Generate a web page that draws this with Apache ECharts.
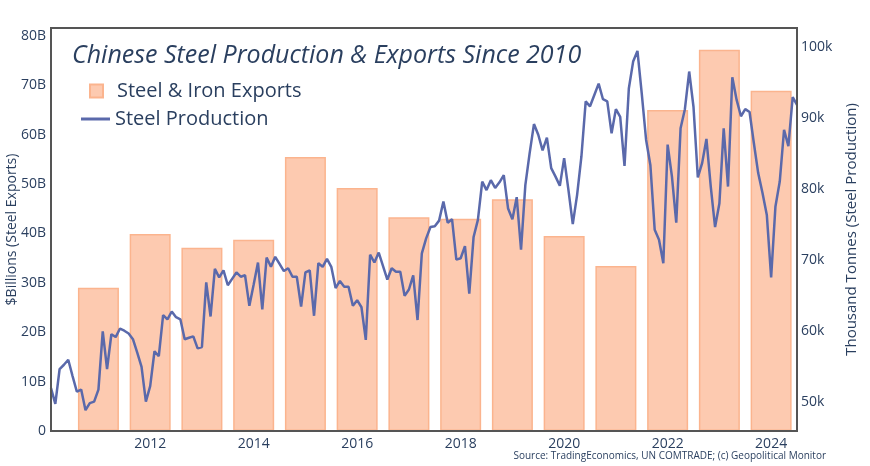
<!DOCTYPE html>
<html><head><meta charset="utf-8">
<script src="https://cdn.jsdelivr.net/npm/echarts@6/dist/echarts.min.js"></script>
<style>html,body{margin:0;padding:0;background:#fff}#c{width:870px;height:466px}</style>
</head><body><div id="c"></div>
<script>
const titleText = 'Chinese Steel Production & Exports Since 2010';
const sourceText = 'Source: TradingEconomics, UN COMTRADE; (c) Geopolitical Monitor';
const exportsName = 'Steel & Iron Exports';
const productionName = 'Steel Production';

// Annual steel & iron exports, $ billions
const exportYears  = [2011, 2012, 2013, 2014, 2015, 2016, 2017, 2018, 2019, 2020, 2021, 2022, 2023, 2024];
const exportValues = [29.0, 39.9, 37.1, 38.7, 55.5, 49.2, 43.3, 43.0, 46.9, 39.5, 33.4, 65.0, 77.2, 68.9];

// Monthly steel production, thousand tonnes (k), starting Feb 2010
const productionStartYear = 2010;
const productionStartMonth = 2;
const productionValues = [
  51.9, 49.7, 54.6, 55.2, 55.9, 53.6, 51.4, 51.7, 48.8, 49.8, 50.0,
  51.7, 59.9, 54.6, 59.5, 59.1, 60.3, 60.0, 59.6, 58.8, 56.9, 54.9, 50.0,
  52.2, 57.1, 56.4, 62.2, 61.6, 62.7, 61.9, 61.6, 58.8, 59.0, 59.2, 57.5,
  57.7, 66.8, 62.0, 68.7, 67.5, 68.5, 66.4, 67.3, 68.2, 67.6, 67.8, 63.5,
  66.5, 69.6, 63.0, 70.3, 69.0, 70.4, 69.4, 68.4, 68.8, 67.6, 67.6, 63.4,
  68.2, 68.5, 62.1, 69.5, 69.0, 70.1, 69.0, 66.0, 67.0, 66.2, 66.2, 63.5,
  64.3, 63.3, 58.7, 70.7, 69.6, 71.0, 69.1, 67.2, 68.8, 68.3, 68.3, 64.9,
  65.8, 67.8, 61.5, 70.9, 73.0, 74.6, 74.7, 75.5, 78.2, 75.2, 75.7, 70.0,
  70.2, 71.9, 65.2, 73.2, 75.6, 81.0, 79.8, 81.2, 80.1, 80.9, 81.9, 77.2,
  75.7, 78.8, 71.4, 80.5, 85.0, 89.1, 87.6, 85.4, 87.2, 82.9, 81.7, 80.4,
  84.3, 79.8, 75.0, 79.1, 84.5, 92.3, 91.6, 93.2, 94.8, 92.6, 92.3, 87.8,
  91.2, 90.1, 83.2, 94.1, 97.9, 99.4, 93.4, 86.9, 83.3, 74.2, 72.8, 69.5,
  86.2, 81.7, 75.2, 88.5, 91.2, 96.5, 91.5, 81.6, 83.6, 87.0, 80.3, 74.6,
  77.9, 88.5, 80.3, 95.7, 92.5, 90.2, 91.2, 90.8, 86.4, 82.2, 79.4, 76.3,
  67.5, 77.5, 81.0, 88.3, 86.0, 92.9, 91.8
];

const xTickYears = [2012, 2014, 2016, 2018, 2020, 2022, 2024];
const leftTicks  = [0, 10, 20, 30, 40, 50, 60, 70, 80];
const rightTicks = [50, 60, 70, 80, 90, 100];

const FONT = 'Open Sans';
const TXT = '#2a3f5f';
const FRAME = '#555';

const productionData = productionValues.map((v, i) => {
  const idx = productionStartMonth - 1 + i;
  const yr = productionStartYear + Math.floor(idx / 12);
  const mo = idx % 12;
  return [yr + mo / 12, v];
});
const exportData = exportYears.map((y, i) => [y, exportValues[i]]);

const chart = echarts.init(document.getElementById('c'), null, {renderer: 'canvas'});
chart.setOption({
  animation: false,
  backgroundColor: '#fff',
  textStyle: {fontFamily: FONT},
  title: {
    text: titleText, left: 72, top: 43, padding: 0,
    textStyle: {fontFamily: FONT, fontSize: 25, fontStyle: 'italic', fontWeight: 'normal', color: TXT}
  },
  legend: [
    {
      data: [exportsName], left: 89, top: 81, padding: 0, orient: 'vertical',
      itemWidth: 13, itemHeight: 13, icon: 'rect',
      textStyle: {fontFamily: FONT, fontSize: 20, color: TXT, padding: [0, 0, 0, 9]}
    },
    {
      data: [productionName], left: 81, top: 109, padding: 0, orient: 'vertical',
      itemWidth: 29, itemHeight: 3, icon: 'rect',
      textStyle: {fontFamily: FONT, fontSize: 20, color: TXT}
    }
  ],
  grid: {
    left: 51, right: 73, top: 28, bottom: 35, outerBoundsMode: 'none', containLabel: false,
    show: true, borderColor: FRAME, borderWidth: 2, backgroundColor: 'transparent'
  },
  xAxis: {
    type: 'value', min: 2010 + 1 / 12, max: 2024.5, z: 10,
    splitLine: {show: false},
    axisLine: {show: true, onZero: false, lineStyle: {color: FRAME, width: 2}},
    axisTick: {show: false},
    axisLabel: {
      customValues: xTickYears, color: TXT, fontSize: 14, fontFamily: FONT, margin: 6,
      formatter: v => String(Math.round(v))
    }
  },
  yAxis: [
    {
      type: 'value', min: 0, max: 81.6, position: 'left', z: 10,
      name: '$Billions (Steel Exports)', nameLocation: 'middle', nameGap: 32,
      nameMoveOverlap: false,
      nameTextStyle: {fontFamily: FONT, fontSize: 14, color: TXT},
      splitLine: {show: false},
      axisLine: {show: true, onZero: false, lineStyle: {color: FRAME, width: 2}},
      axisTick: {show: false},
      axisLabel: {
        customValues: leftTicks, color: TXT, fontSize: 14, fontFamily: FONT, margin: 5,
        formatter: v => v === 0 ? '0' : Math.round(v) + 'B'
      }
    },
    {
      type: 'value', min: 45.87, max: 102.63, position: 'right', z: 10,
      name: 'Thousand Tonnes (Steel Production)', nameLocation: 'middle', nameGap: 47,
      nameMoveOverlap: false,
      nameTextStyle: {fontFamily: FONT, fontSize: 15, color: TXT},
      splitLine: {show: false},
      axisLine: {show: true, onZero: false, lineStyle: {color: FRAME, width: 2}},
      axisTick: {show: false},
      axisLabel: {
        customValues: rightTicks, color: TXT, fontSize: 14, fontFamily: FONT, margin: 4,
        formatter: v => Math.round(v) + 'k'
      }
    }
  ],
  series: [
    {
      name: exportsName, type: 'bar', xAxisIndex: 0, yAxisIndex: 0,
      data: exportData, barWidth: 41,
      itemStyle: {color: '#fdcab0', borderColor: '#fbb48e', borderWidth: 1.5}
    },
    {
      name: productionName, type: 'line', xAxisIndex: 0, yAxisIndex: 1,
      data: productionData, symbol: 'none', showSymbol: false,
      lineStyle: {color: '#5a69ab', width: 2.5},
      itemStyle: {color: '#5a69ab'}
    }
  ],
  graphic: [
    {
      type: 'text', right: 44, top: 451,
      style: {text: sourceText, fontFamily: FONT, fontSize: 10, fill: TXT}
    }
  ]
});
</script>
</body></html>
